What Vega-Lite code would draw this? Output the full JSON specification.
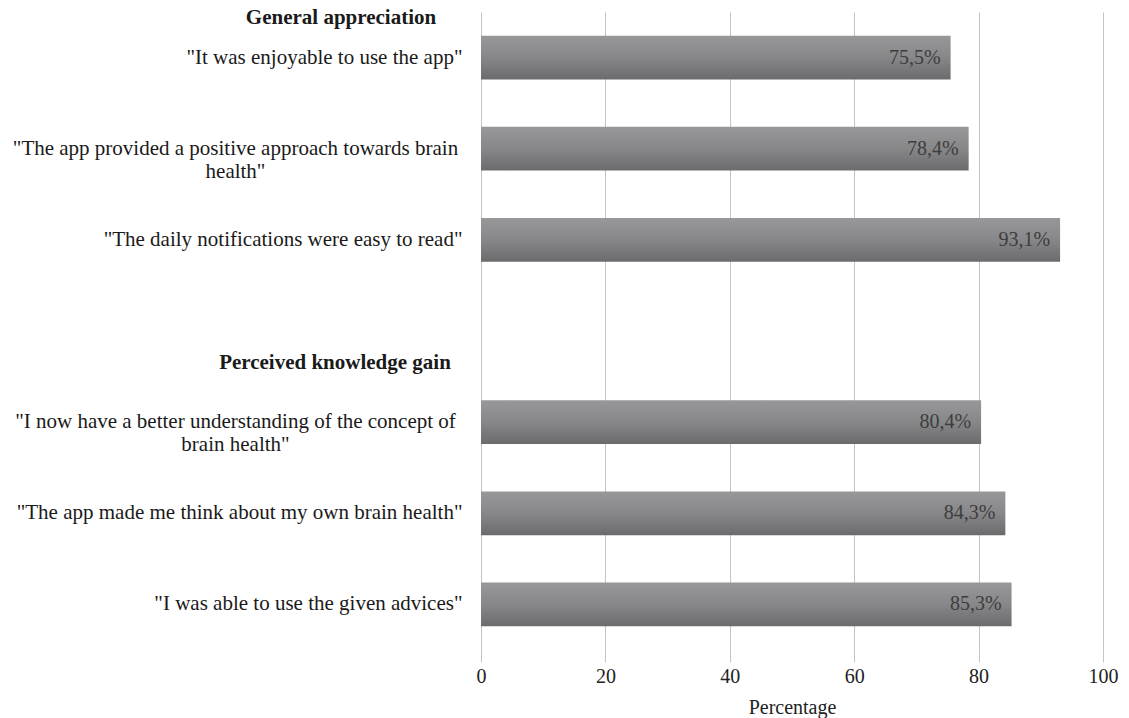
{
  "$schema": "https://vega.github.io/schema/vega-lite/v6.json",
  "width": 622,
  "height": 638,
  "autosize": "none",
  "padding": {"left": 481, "top": 12, "right": 26, "bottom": 68},
  "background": "white",
  "config": {
    "view": {"stroke": null},
    "font": "Liberation Serif"
  },
  "datasets": {
    "bars": [
      {"item": "\"It was enjoyable to use the app\"", "value": 75.5, "label": "75,5%"},
      {"item": "\"The app provided a positive approach towards brain|health\"", "value": 78.4, "label": "78,4%"},
      {"item": "\"The daily notifications were easy to read\"", "value": 93.1, "label": "93,1%"},
      {"item": "\"I now have a better understanding of the concept of|brain health\"", "value": 80.4, "label": "80,4%"},
      {"item": "\"The app made me think about my own brain health\"", "value": 84.3, "label": "84,3%"},
      {"item": "\"I was able to use the given advices\"", "value": 85.3, "label": "85,3%"}
    ],
    "h1": [{"item": "\"It was enjoyable to use the app\"", "value": 0, "header": "General appreciation"}],
    "h2": [{"item": " ", "value": 0, "header": "Perceived knowledge gain"}]
  },
  "layer": [
    {
      "data": {"name": "bars"},
      "mark": {
        "type": "bar",
        "color": {
          "gradient": "linear", "x1": 0, "y1": 0, "x2": 0, "y2": 1,
          "stops": [
            {"offset": 0, "color": "#98989b"},
            {"offset": 0.5, "color": "#87878a"},
            {"offset": 1, "color": "#6b6b6e"}
          ]
        }
      },
      "encoding": {
        "x": {
          "field": "value", "type": "quantitative",
          "scale": {"domain": [0, 100], "nice": false},
          "axis": {
            "values": [0, 20, 40, 60, 80, 100],
            "grid": true, "gridColor": "#c4c4c4", "gridWidth": 1,
            "domain": false,
            "ticks": true, "tickSize": 12, "tickColor": "#c4c4c4",
            "labelPadding": 4, "labelFlush": false,
            "labelFont": "Liberation Serif", "labelFontSize": 20, "labelColor": "#222222",
            "title": "Percentage",
            "titleFont": "Liberation Serif", "titleFontSize": 20, "titleFontWeight": "normal", "titleColor": "#222222",
            "titlePadding": 11
          }
        },
        "y": {
          "field": "item", "type": "nominal", "sort": null,
          "scale": {
            "domain": [
              "\"It was enjoyable to use the app\"",
              "\"The app provided a positive approach towards brain|health\"",
              "\"The daily notifications were easy to read\"",
              " ",
              "\"I now have a better understanding of the concept of|brain health\"",
              "\"The app made me think about my own brain health\"",
              "\"I was able to use the given advices\""
            ],
            "paddingInner": 0.52, "paddingOuter": 0.26
          },
          "axis": {
            "title": null,
            "domain": false, "ticks": false, "grid": false,
            "labelExpr": "split(datum.value, '|')",
            "labelFont": "Liberation Serif", "labelFontSize": 21, "labelColor": "#1a1a1a",
            "labelLineHeight": 23,
            "labelLimit": 0,
            "labelBaseline": "middle",
            "labelAlign": {"condition": {"test": "indexof(datum.value, '|') >= 0", "value": "center"}, "value": "right"},
            "labelPadding": {"condition": {"test": "indexof(datum.value, '|') >= 0", "value": 246}, "value": 19}
          }
        }
      }
    },
    {
      "data": {"name": "bars"},
      "mark": {"type": "text", "align": "right", "baseline": "middle", "dx": -10, "font": "Liberation Serif", "fontSize": 20, "color": "#3d3d3d"},
      "encoding": {
        "x": {"field": "value", "type": "quantitative"},
        "y": {"field": "item", "type": "nominal", "sort": null},
        "text": {"field": "label"}
      }
    },
    {
      "data": {"name": "h1"},
      "mark": {"type": "text", "align": "center", "baseline": "middle", "dx": -140, "dy": -40, "font": "Liberation Serif", "fontSize": 21, "fontWeight": "bold", "color": "#1a1a1a"},
      "encoding": {
        "x": {"field": "value", "type": "quantitative"},
        "y": {"field": "item", "type": "nominal", "sort": null},
        "text": {"field": "header"}
      }
    },
    {
      "data": {"name": "h2"},
      "mark": {"type": "text", "align": "center", "baseline": "middle", "dx": -146, "dy": 32, "font": "Liberation Serif", "fontSize": 21, "fontWeight": "bold", "color": "#1a1a1a"},
      "encoding": {
        "x": {"field": "value", "type": "quantitative"},
        "y": {"field": "item", "type": "nominal", "sort": null},
        "text": {"field": "header"}
      }
    }
  ]
}
